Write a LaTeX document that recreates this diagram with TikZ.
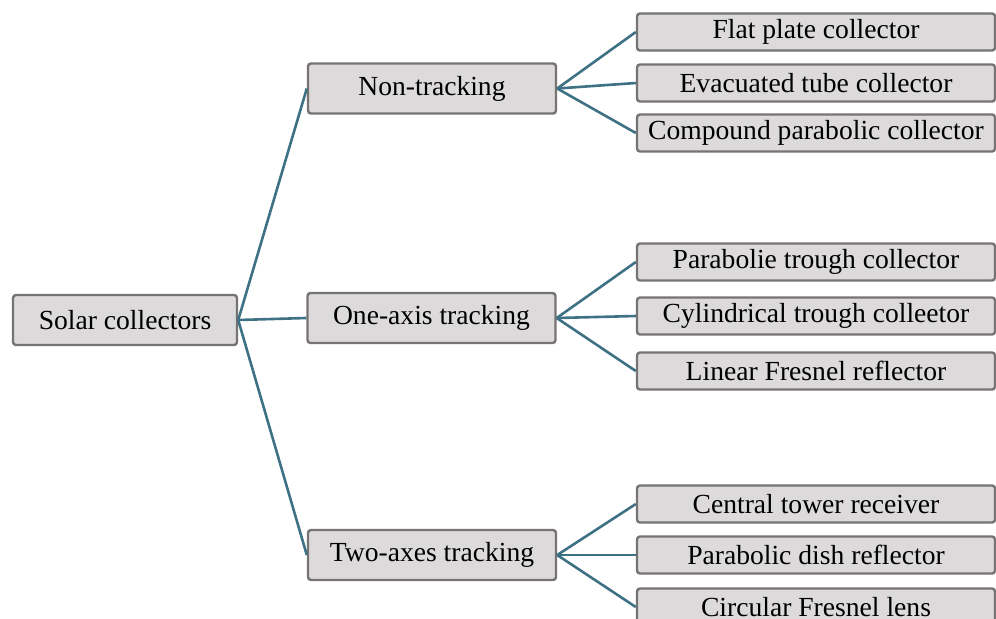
\documentclass[tikz,border=0pt]{standalone}
\usepackage{fontspec}
\setmainfont{Liberation Serif}
\definecolor{linkblue}{HTML}{3F7184}
\definecolor{boxfill}{HTML}{DCDADA}
\definecolor{boxline}{HTML}{777373}
\tikzset{
  box/.style={draw=boxline, fill=boxfill, line width=1.2pt, rounded corners=1.5pt,
    inner sep=0pt, font=\fontsize{13.8}{16}\selectfont},
  root/.style={box, minimum width=112pt, minimum height=25pt},
  mid/.style={box, minimum width=124pt, minimum height=25pt},
  leaf/.style={box, minimum width=179pt, minimum height=18.5pt},
  link/.style={draw=linkblue, line width=1.3pt}
}
\begin{document}
\begin{tikzpicture}[x=0.5pt,y=-0.5pt]
\useasboundingbox (0,0) rectangle (996,618);
\clip (0,0) rectangle (996,618);

\node[root] (sc) at (125,320) {Solar collectors};

\node[mid] (non) at (432,88.5) {Non-tracking};
\node[mid] (one) at (431.5,318) {One-axis tracking};
\node[mid] (two) at (432,555) {Two-axes tracking};

\node[leaf] (flat) at (816,32) {Flat plate collector};
\node[leaf] (evac) at (816,83) {Evacuated tube collector};
\node[leaf] (cpc) at (816,133) {Compound parabolic collector};
\node[leaf] (ptc) at (816,262) {Parabolie trough collector};
\node[leaf] (ctc) at (816,316) {Cylindrical trough colleetor};
\node[leaf] (lfr) at (816,371) {Linear Fresnel reflector};
\node[leaf] (ctr) at (816,504) {Central tower receiver};
\node[leaf] (pdr) at (816,555) {Parabolic dish reflector};
\node[leaf] (cfl) at (816,607) {Circular Fresnel lens};

\path[link] (sc.east) -- (non.west);
\path[link] (sc.east) -- (one.west);
\path[link] (sc.east) -- (two.west);

\path[link] (non.east) -- (flat.west);
\path[link] (non.east) -- (evac.west);
\path[link] (non.east) -- (cpc.west);
\path[link] (one.east) -- (ptc.west);
\path[link] (one.east) -- (ctc.west);
\path[link] (one.east) -- (lfr.west);
\path[link] (two.east) -- (ctr.west);
\path[link] (two.east) -- (pdr.west);
\path[link] (two.east) -- (cfl.west);
\end{tikzpicture}
\end{document}
